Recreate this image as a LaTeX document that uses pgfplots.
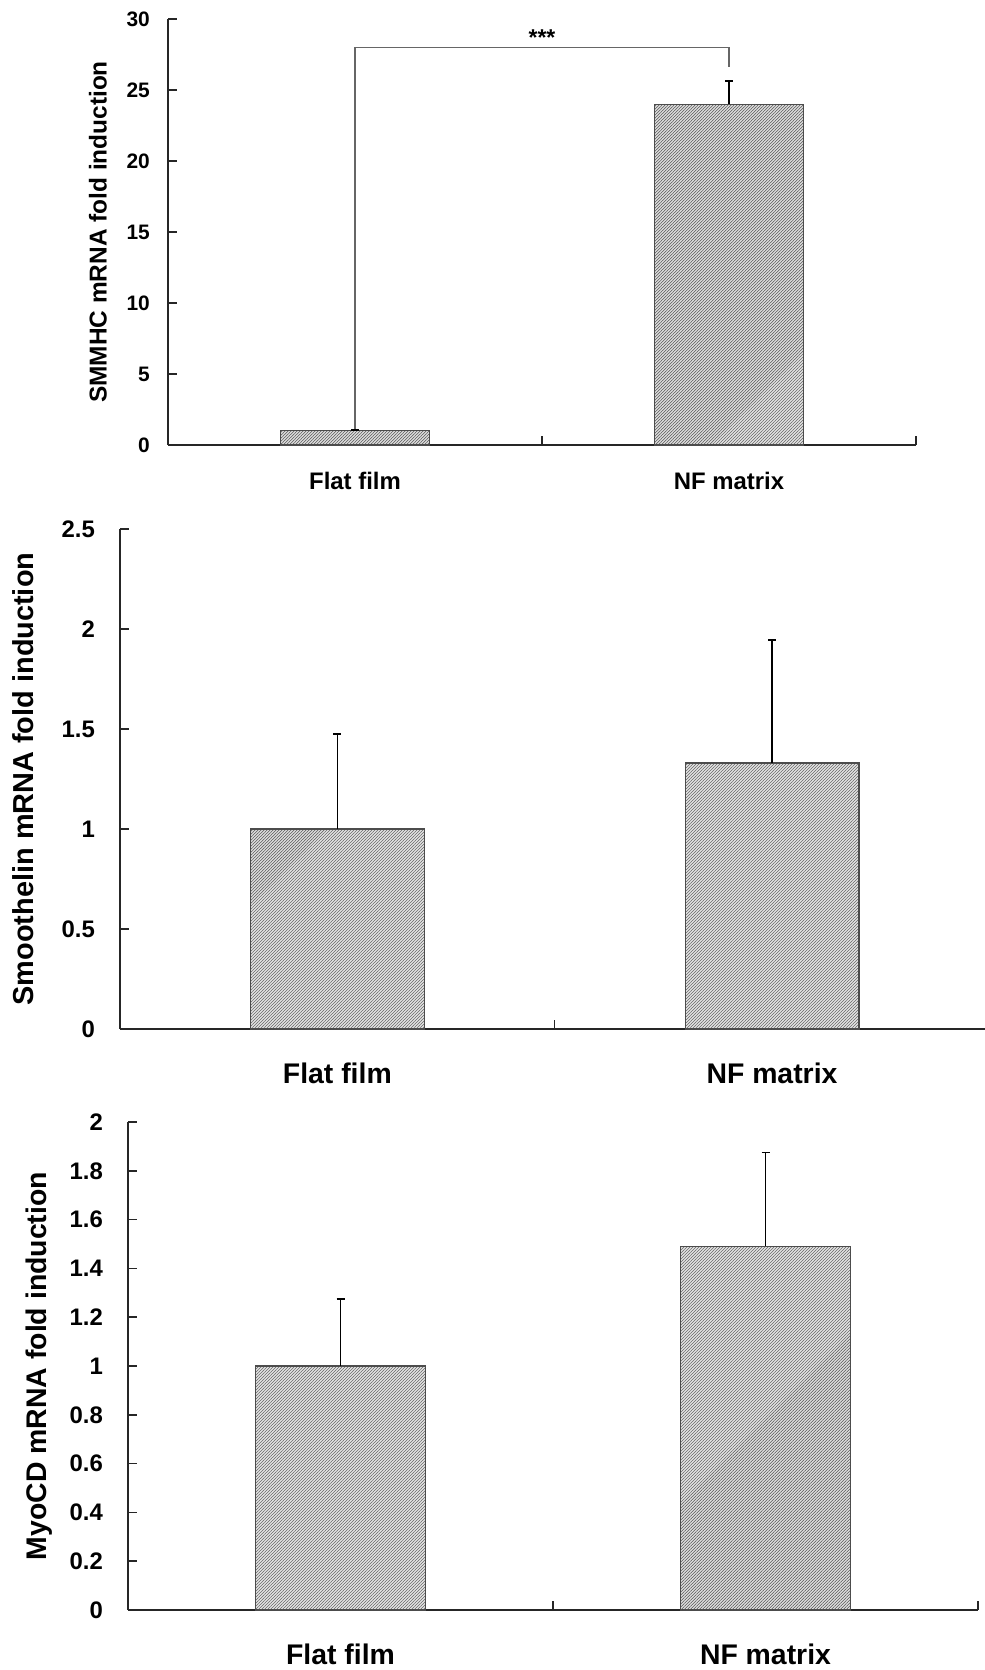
\documentclass[border=0pt]{standalone}
\usepackage{fontspec}
\setmainfont{Liberation Sans}
\usepackage{pgfplots}
\pgfplotsset{compat=1.18}
\usetikzlibrary{patterns.meta}

\pgfplotstableread{
x y e
1 1.00 0.05
2 24.00 1.62
}\smmhc
\pgfplotstableread{
x y e
1 1.00 0.475
2 1.33 0.615
}\smoothelin
\pgfplotstableread{
x y e
1 1.00 0.275
2 1.49 0.385
}\myocd

\pgfplotsset{
  panel/.style={
    scale only axis,
    anchor=south west,
    axis x line=bottom, axis y line=left,
    axis line style={-, line width=1.6bp, black!85},
    every outer x axis line/.append style={-},
    every outer y axis line/.append style={-},
    every inner x axis line/.append style={-},
    every inner y axis line/.append style={-},
    xmin=0.5, xmax=2.5, ymin=0,
    xtick={1,2}, xticklabels={Flat film, NF matrix},
    minor xtick={1.5,2.5},
    major x tick style={draw=none},
    minor x tick style={line width=1.5bp, black!85},
    ytick style={line width=1.5bp, black!85},
    major tick length=9bp, minor tick length=9bp,
    tick align=inside,
    /pgf/number format/assume math mode=true,
    /pgf/number format/fixed,
    yticklabel style={inner sep=0pt, anchor=east},
    xticklabel style={anchor=center, inner sep=0pt},
    clip=false,
    bar width=0.4,
  },
  hbar/.style={ybar, bar shift=0pt, fill=gray!22, draw=black!70, line width=1.1bp,
    postaction={pattern={Lines[angle=45, distance=2.1213bp, line width=0.7bp]}, pattern color=black!60},
    error bars/.cd, y dir=plus, y explicit,
    error bar style={line width=1.6bp, black},
    error mark options={rotate=90, line width=1.6bp, black, mark size=4bp}},
}

\begin{document}
\begin{tikzpicture}
\path[use as bounding box] (0,0) rectangle (985bp,1670bp);

% top panel
\begin{axis}[panel,
  at={(168bp,1225bp)}, width=748bp, height=426bp,
  ymax=30, ytick={0,5,...,30},
  yticklabel style={xshift=-18bp, font=\bfseries\fontsize{21}{21}\selectfont},
  xticklabel style={yshift=-36bp, font=\bfseries\fontsize{24}{24}\selectfont},
  ylabel={SMMHC mRNA fold induction},
  every axis y label/.style={at={(rel axis cs:-0.0936,0.5)}, rotate=90, anchor=center, font=\bfseries\fontsize{24.5}{24.5}\selectfont},
]
\addplot[hbar] table[x=x, y=y, y error=e] {\smmhc};
\addplot[gray!80!black, line width=1.2bp, mark=none] coordinates {(1,1.13) (1,28) (2,28) (2,26.6)};
\node[font=\bfseries\fontsize{23}{23}\selectfont] at (axis cs:1.5,28.7) {***};
\end{axis}

% middle panel
\begin{axis}[panel,
  at={(120bp,641bp)}, width=865bp, height=500bp,
  xmax=2.49, minor xtick={1.5},
  ymax=2.5, ytick={0,0.5,...,2.5},
  yticklabel style={xshift=-25bp, font=\bfseries\fontsize{24}{24}\selectfont},
  xticklabel style={yshift=-44bp, font=\bfseries\fontsize{28.5}{28.5}\selectfont},
  ylabel={Smoothelin mRNA fold induction},
  every axis y label/.style={at={(rel axis cs:-0.1116,0.5)}, rotate=90, anchor=center, font=\bfseries\fontsize{29}{29}\selectfont},
]
\addplot[hbar] table[x=x, y=y, y error=e] {\smoothelin};
\end{axis}

% bottom panel
\begin{axis}[panel,
  at={(128bp,60bp)}, width=850bp, height=488bp,
  ymax=2, ytick={0,0.2,...,2.01},
  yticklabel style={xshift=-25bp, font=\bfseries\fontsize{24}{24}\selectfont},
  xticklabel style={yshift=-44bp, font=\bfseries\fontsize{28.5}{28.5}\selectfont},
  ylabel={MyoCD mRNA fold induction},
  every axis y label/.style={at={(rel axis cs:-0.1047,0.5)}, rotate=90, anchor=center, font=\bfseries\fontsize{28.5}{28.5}\selectfont},
]
\addplot[hbar] table[x=x, y=y, y error=e] {\myocd};
\end{axis}
\end{tikzpicture}
\end{document}
